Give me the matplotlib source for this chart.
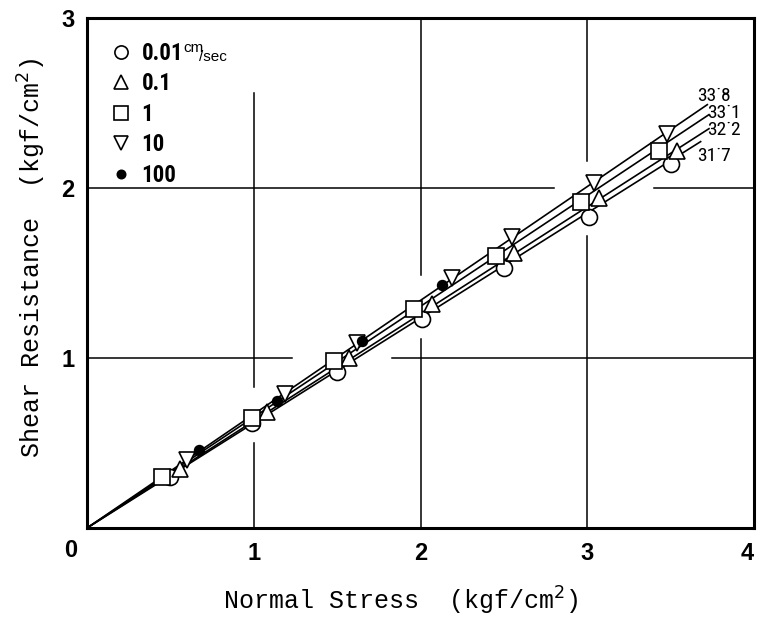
import numpy as np
import matplotlib
matplotlib.use("Agg")
import matplotlib.pyplot as plt
from matplotlib.lines import Line2D
from matplotlib import font_manager

# shear tests at five loading rates (cm/sec)
speeds = ["0.01", "0.1", "1", "10", "100"]
markers = ["o", "^", "s", "v", "o"]
filled = [False, False, False, False, True]

x_001 = [0.50, 0.99, 1.50, 2.01, 2.50, 3.01, 3.50]
y_001 = [0.30, 0.62, 0.92, 1.23, 1.53, 1.83, 2.14]
x_01 = [0.56, 1.08, 1.57, 2.07, 2.56, 3.07, 3.54]
y_01 = [0.35, 0.68, 1.00, 1.32, 1.62, 1.94, 2.22]
x_1 = [0.45, 0.99, 1.48, 1.96, 2.45, 2.96, 3.43]
y_1 = [0.30, 0.65, 0.98, 1.29, 1.60, 1.92, 2.22]
x_10 = [0.60, 1.19, 1.62, 2.19, 2.55, 3.04, 3.48]
y_10 = [0.40, 0.79, 1.09, 1.47, 1.71, 2.03, 2.32]
x_100 = [0.67, 1.14, 1.65, 2.13]
y_100 = [0.46, 0.75, 1.10, 1.43]

xs = [x_001, x_01, x_1, x_10, x_100]
ys = [y_001, y_01, y_1, y_10, y_100]

# friction angles (deg) of the fitted lines through the origin
angles = [33.8, 33.1, 32.2, 31.7]
angle_labels = ["33˙8", "33˙1", "32˙2", "31˙7"]
line_ends = [3.72, 3.73, 3.73, 3.68]
label_pos = [(3.66, 2.54), (3.72, 2.44), (3.72, 2.34), (3.66, 2.19)]

# broken grid segments (gaps left around the data)
vgrid = [(1, 0.0, 0.50), (1, 0.83, 2.56), (2, 0.0, 1.11), (2, 1.49, 3.0),
         (3, 0.0, 1.72), (3, 2.16, 3.0)]
hgrid = [(1, 0.0, 1.23), (1, 1.83, 4.0), (2, 0.0, 2.80), (2, 3.40, 4.0)]

# narrow face for the legend if one is installed
names = {f.name for f in font_manager.fontManager.ttflist}
narrow = [n for n in ["Liberation Sans Narrow", "Roboto Condensed",
                      "Open Sans Condensed", "DejaVu Sans"] if n in names][:1]
narrow = narrow + ["DejaVu Sans"]
sans = ["Liberation Sans", "DejaVu Sans"]
mono = ["Liberation Mono", "DejaVu Sans Mono"]

fig = plt.figure(figsize=(7.57, 6.18), dpi=100)
ax = fig.add_axes([87 / 757, 1 - 528 / 618, 667 / 757, 510 / 618])
ax.set_xlim(0, 4)
ax.set_ylim(0, 3)

for xv, y0, y1 in vgrid:
    ax.plot([xv, xv], [y0, y1], color="black", lw=1.1, zorder=1)
for yv, x0, x1 in hgrid:
    ax.plot([x0, x1], [yv, yv], color="black", lw=1.1, zorder=1)

for ang, xe, lab, (tx, ty) in zip(angles, line_ends, angle_labels, label_pos):
    k = np.tan(np.radians(ang))
    ax.plot([0, xe], [0, k * xe], color="black", lw=1.2, zorder=2)
    ax.text(tx, ty, lab, fontsize=14, va="center", ha="left",
            family=narrow, stretch="condensed")

handles = []
for sp, m, f, x, y in zip(speeds, markers, filled, xs, ys):
    ms = 7 if f else 11.5
    fc = "black" if f else "white"
    ax.plot(x, y, linestyle="none", marker=m, ms=ms, mfc=fc, mec="black",
            mew=1.2, zorder=3)
    handles.append(Line2D([], [], linestyle="none", marker=m,
                          ms=6 if f else 9.5, mfc=fc, mec="black", mew=1.2))

leg = ax.legend(handles, speeds, loc="upper left", bbox_to_anchor=(0.013, 0.985),
                frameon=False, handlelength=0.8, handletextpad=0.5,
                labelspacing=0.33, borderpad=0.2,
                prop={"family": narrow, "weight": "bold", "size": 16.5,
                      "stretch": "condensed"})

ax.text(0.576, 2.825, "cm", fontsize=11, va="center", ha="left", family=sans)
ax.text(0.672, 2.77, "/sec", fontsize=11, va="center", ha="left", family=sans)

for s in ax.spines.values():
    s.set_linewidth(2.2)

ax.set_xticks([1, 2, 3, 4])
ax.set_yticks([1, 2, 3])
ax.tick_params(length=0, labelsize=17)
ax.tick_params(axis="x", pad=10)
ax.tick_params(axis="y", pad=9)
for t in ax.get_xticklabels() + ax.get_yticklabels():
    t.set_fontweight("bold")
    t.set_family(sans)
ax.get_xticklabels()[-1].set_horizontalalignment("right")
ax.text(-0.1, -0.13, "0", fontsize=17, fontweight="bold", ha="center",
        va="center", family=sans, clip_on=False)

ax.set_xlabel(r"Normal Stress  (kgf/cm$^2$)", fontsize=18, family=mono)
ax.set_ylabel(r"Shear Resistance  (kgf/cm$^2$)", fontsize=18, family=mono)
ax.xaxis.set_label_coords(0.47, -0.112)
ax.yaxis.set_label_coords(-0.059, 0.53)

fig.savefig("out.png", dpi=100)
